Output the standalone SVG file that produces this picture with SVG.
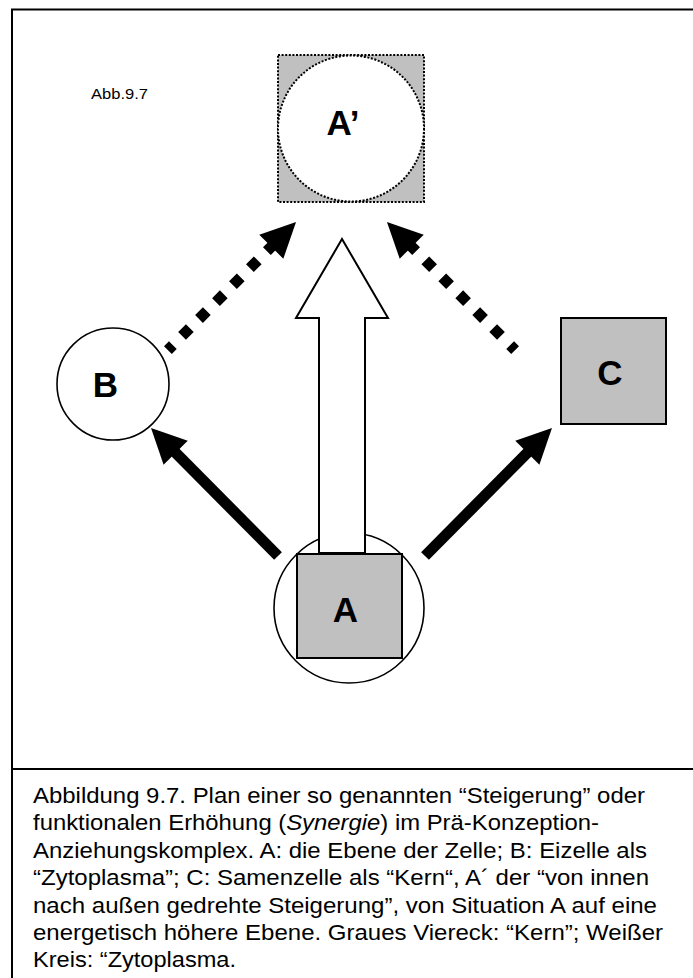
<svg xmlns="http://www.w3.org/2000/svg" width="693" height="978" viewBox="0 0 693 978">
<style>
.frame{fill:none;stroke:#000;stroke-width:2}
.gray{fill:#c0c0c0;stroke:#000;stroke-width:2}
.ring{fill:#fff;stroke:#000;stroke-width:1.6}
.dot{stroke:#000;stroke-width:2;stroke-dasharray:2 1.6}
.lbl{font-family:"Liberation Sans",Arial,sans-serif;font-weight:bold;font-size:35px;fill:#000;text-anchor:middle}
.cap{font-family:"Liberation Sans",Arial,sans-serif;font-size:22.5px;fill:#000}
.solid{fill:none;stroke:#000;stroke-width:11;stroke-linecap:butt}
.dotted{fill:none;stroke:#000;stroke-width:11;stroke-linecap:butt;stroke-dasharray:11 13;stroke-dashoffset:4}
.big{fill:#fff;stroke:#000;stroke-width:2;stroke-linejoin:miter}
</style>
<defs>
<marker id="head" markerUnits="userSpaceOnUse" markerWidth="36" markerHeight="36" refX="15" refY="17" orient="auto" overflow="visible">
<path d="M0,0 L35,17 L0,34 Z" fill="#000"/>
</marker>
</defs>
<rect width="693" height="978" fill="#fff"/>
<path class="frame" d="M12,978 V9.5 H693"/>
<line class="frame" x1="12" y1="769" x2="693" y2="769"/>
<text class="cap" x="91" y="99" style="font-size:15px" textLength="57" lengthAdjust="spacingAndGlyphs">Abb.9.7</text>

<g id="node-A">
<circle class="ring" cx="349" cy="608" r="75"/>
<rect class="gray" x="297" y="554" width="105" height="104"/>
<text class="lbl" x="345.5" y="622">A</text>
</g>
<g id="node-Aprime">
<rect class="dot" x="278" y="55" width="146" height="147" fill="#c0c0c0"/>
<circle class="dot" cx="351" cy="128.5" r="73" fill="#fff"/>
<text class="lbl" x="343" y="135">A’</text>
</g>
<g id="node-B">
<circle class="ring" cx="113" cy="384" r="56"/>
<text class="lbl" x="105.5" y="397">B</text>
</g>
<g id="node-C">
<rect class="gray" x="561" y="318" width="105" height="106"/>
<text class="lbl" x="610" y="385">C</text>
</g>

<g id="connectors">
<polygon class="big" points="319,553 319,318 296,318 342,239 388,318 365,318 365,553"/>
<line class="solid" x1="278" y1="556" x2="165.1" y2="442.1" marker-end="url(#head)"/>
<line class="solid" x1="425" y1="556" x2="537.9" y2="442.1" marker-end="url(#head)"/>
<line class="dotted" x1="167.9" y1="350.1" x2="281.9" y2="236.1" marker-end="url(#head)"/>
<line class="dotted" x1="515.1" y1="350.1" x2="401.1" y2="236.1" marker-end="url(#head)"/>
</g>

<g id="caption">
<text class="cap" x="33" y="802.5" textLength="612" lengthAdjust="spacingAndGlyphs">Abbildung 9.7. Plan einer so genannten “Steigerung” oder</text>
<text class="cap" x="33" y="830" textLength="566" lengthAdjust="spacingAndGlyphs">funktionalen Erhöhung (<tspan font-style="italic">Synergie</tspan>) im Prä-Konzeption-</text>
<text class="cap" x="33" y="857.5" textLength="614" lengthAdjust="spacingAndGlyphs">Anziehungskomplex. A: die Ebene der Zelle; B: Eizelle als</text>
<text class="cap" x="33" y="885" textLength="616" lengthAdjust="spacingAndGlyphs">“Zytoplasma”; C: Samenzelle als “Kern“, A´ der “von innen</text>
<text class="cap" x="33" y="912.5" textLength="624" lengthAdjust="spacingAndGlyphs">nach außen gedrehte Steigerung”, von Situation A auf eine</text>
<text class="cap" x="33" y="940" textLength="630" lengthAdjust="spacingAndGlyphs">energetisch höhere Ebene. Graues Viereck: “Kern”; Weißer</text>
<text class="cap" x="33" y="967" textLength="203" lengthAdjust="spacingAndGlyphs">Kreis: “Zytoplasma.</text>
</g>
</svg>
